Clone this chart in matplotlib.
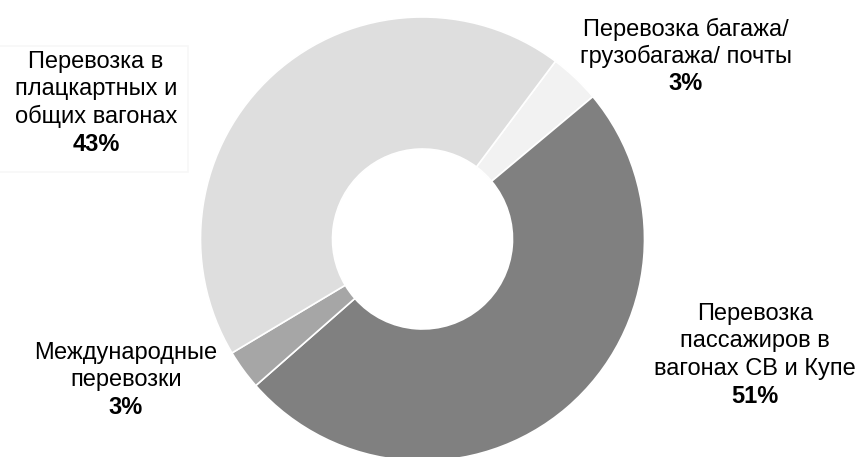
import matplotlib
matplotlib.use("Agg")
import matplotlib.pyplot as plt
from matplotlib.patches import Rectangle

plt.rcParams["font.family"] = ["Liberation Sans", "DejaVu Sans"]

# slices, clockwise from the top-right
names = ["Перевозка багажа/\nгрузобагажа/ почты",
         "Перевозка\nпассажиров в\nвагонах СВ и Купе",
         "Международные\nперевозки",
         "Перевозка в\nплацкартных и\nобщих вагонах"]
shares = [3.7, 49.6, 2.9, 43.8]          # wedge sizes
pct_labels = ["3%", "51%", "3%", "43%"]  # printed values
colors = ["#f2f2f2", "#808080", "#a6a6a6", "#dedede"]

W, H = 858, 457
fig = plt.figure(figsize=(W / 100, H / 100), dpi=100)
ax = fig.add_axes([0, 0, 1, 1])

# work in pixel units, y up
cx, cy, R = 422.5, H - 239, 222
ax.pie(shares, colors=colors, startangle=53.2, counterclock=False,
       center=(cx, cy), radius=R,
       wedgeprops=dict(width=R - 90, edgecolor="white", linewidth=1.2))
ax.set_xlim(0, W); ax.set_ylim(0, H)
ax.set_aspect("auto")
ax.axis("off")

# faint box behind the left label
ax.add_patch(Rectangle((-3, H - 172), 191, 126, fill=False,
                       edgecolor="#f7f7f7", lw=1.2, zorder=0))

# label anchors (centre x, first line centre in px from top)
lab_x = [686, 755, 126, 96]
lab_y = [29, 314, 353, 62]
step = 27.4
fs = 17
for name, pct, x, y in zip(names, pct_labels, lab_x, lab_y):
    lines = name.split("\n")
    for i, ln in enumerate(lines):
        ax.text(x, H - (y + i * step), ln, ha="center", va="center",
                fontsize=fs, color="#000000")
    ax.text(x, H - (y + len(lines) * step), pct, ha="center", va="center",
            fontsize=fs, fontweight="bold", color="#000000")

fig.savefig("out.png", dpi=100)
